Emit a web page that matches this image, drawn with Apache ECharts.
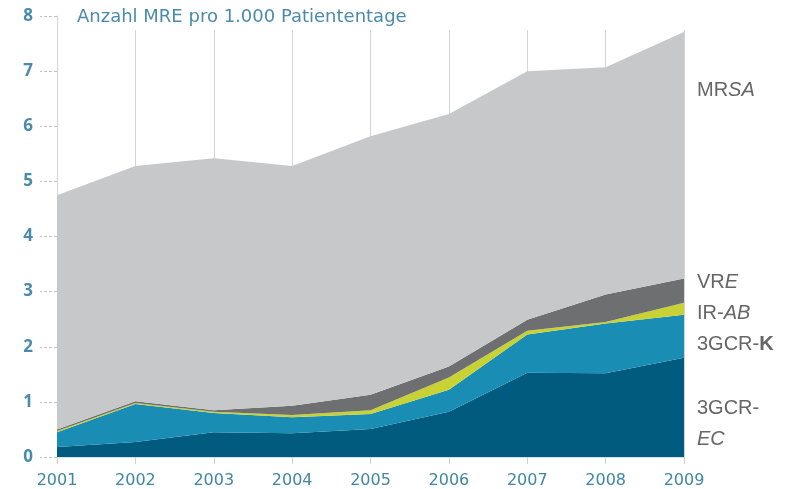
<!DOCTYPE html>
<html>
<head>
<meta charset="utf-8">
<script src="https://cdn.jsdelivr.net/npm/echarts@6/dist/echarts.min.js"></script>
<style>html,body{margin:0;padding:0;background:#fff}#c{width:802px;height:489px}</style>
</head>
<body>
<div id="c"></div>
<script>
var years = ['2001','2002','2003','2004','2005','2006','2007','2008','2009'];
var ec   = [0.18, 0.27, 0.45, 0.43, 0.51, 0.82, 1.53, 1.52, 1.80];
var k    = [0.27, 0.69, 0.35, 0.29, 0.27, 0.40, 0.69, 0.90, 0.78];
var ab   = [0.02, 0.02, 0.02, 0.04, 0.07, 0.22, 0.07, 0.03, 0.22];
var vre  = [0.03, 0.03, 0.03, 0.17, 0.28, 0.20, 0.20, 0.50, 0.44];
var mrsa = [4.25, 4.27, 4.57, 4.35, 4.69, 4.58, 4.51, 4.12, 4.47];
var yTicks = [0, 8, 1];

var chart = echarts.init(document.getElementById('c'));
function area(name, data, color) {
  return {
    name: name, type: 'line', stack: 'total', data: data,
    symbol: 'none', smooth: false,
    lineStyle: { width: 0 },
    areaStyle: { color: color, opacity: 1 },
    itemStyle: { color: color },
    silent: true, z: 3
  };
}
var labelColor = '#666666';
function rt(x, y, text, rich) {
  return { type: 'text', left: x, top: y, style: { text: text, rich: rich, font: '20px "Liberation Sans", Arial, sans-serif', fill: labelColor } };
}
var richBase = {
  n: { fontSize: 20, fontFamily: 'Liberation Sans', color: labelColor },
  i: { fontSize: 20, fontFamily: 'Liberation Sans', fontStyle: 'italic', color: labelColor },
  b: { fontSize: 20, fontFamily: 'Liberation Sans', fontWeight: 'bold', color: labelColor }
};
chart.setOption({
  animation: false,
  title: {
    text: 'Anzahl MRE pro 1.000 Patiententage',
    left: 72, top: 3,
    textStyle: { color: '#4a8bab', fontSize: 18, fontWeight: 'normal', fontFamily: 'DejaVu Sans' }
  },
  grid: [
    { left: 57, right: 118, top: 16, bottom: 32 },
    { left: 57, right: 118, top: 30, bottom: 32 }
  ],
  xAxis: [{
    type: 'category', data: years, boundaryGap: false, gridIndex: 0,
    axisLine: { show: true, lineStyle: { color: '#cfe6ee', width: 1 } },
    axisTick: { show: true, length: 7, lineStyle: { color: '#d0d0d0' } },
    axisLabel: { color: '#3f86a3', fontSize: 16, fontFamily: 'DejaVu Sans', margin: 16 },
    splitLine: { show: false }
  }, {
    type: 'category', data: years, boundaryGap: false, gridIndex: 1,
    axisLine: { show: false }, axisTick: { show: false }, axisLabel: { show: false },
    splitLine: { show: true, lineStyle: { color: '#d6d6d6', width: 1 } }
  }],
  yAxis: [{
    type: 'value', min: yTicks[0], max: yTicks[1], interval: yTicks[2], gridIndex: 0,
    axisLine: { show: true, lineStyle: { color: '#d6d6d6', width: 1 } },
    axisTick: { show: true, length: 17, lineStyle: { color: '#c4c4c4', type: [3, 2] } },
    axisLabel: { color: '#4a8bab', fontSize: 17, fontWeight: 'bold', fontFamily: 'Open Sans', margin: 24 },
    splitLine: { show: false }
  }, {
    type: 'value', min: 0, max: 1, gridIndex: 1, show: false, splitLine: { show: false }
  }],
  series: [
    area('3GCR-EC', ec, '#005b7f'),
    area('3GCR-K', k, '#1a8db4'),
    area('IR-AB', ab, '#c9d235'),
    area('VRE', vre, '#6e6f71'),
    area('MRSA', mrsa, '#c6c8ca')
  ],
  graphic: [
    rt(697, 80, '{n|MR}{i|SA}', richBase),
    rt(697, 272, '{n|VR}{i|E}', richBase),
    rt(697, 303, '{n|IR-}{i|AB}', richBase),
    rt(697, 334, '{n|3GCR-}{b|K}', richBase),
    rt(697, 398, '{n|3GCR-}', richBase),
    rt(697, 429, '{i|EC}', richBase)
  ]
});
</script>
</body>
</html>
